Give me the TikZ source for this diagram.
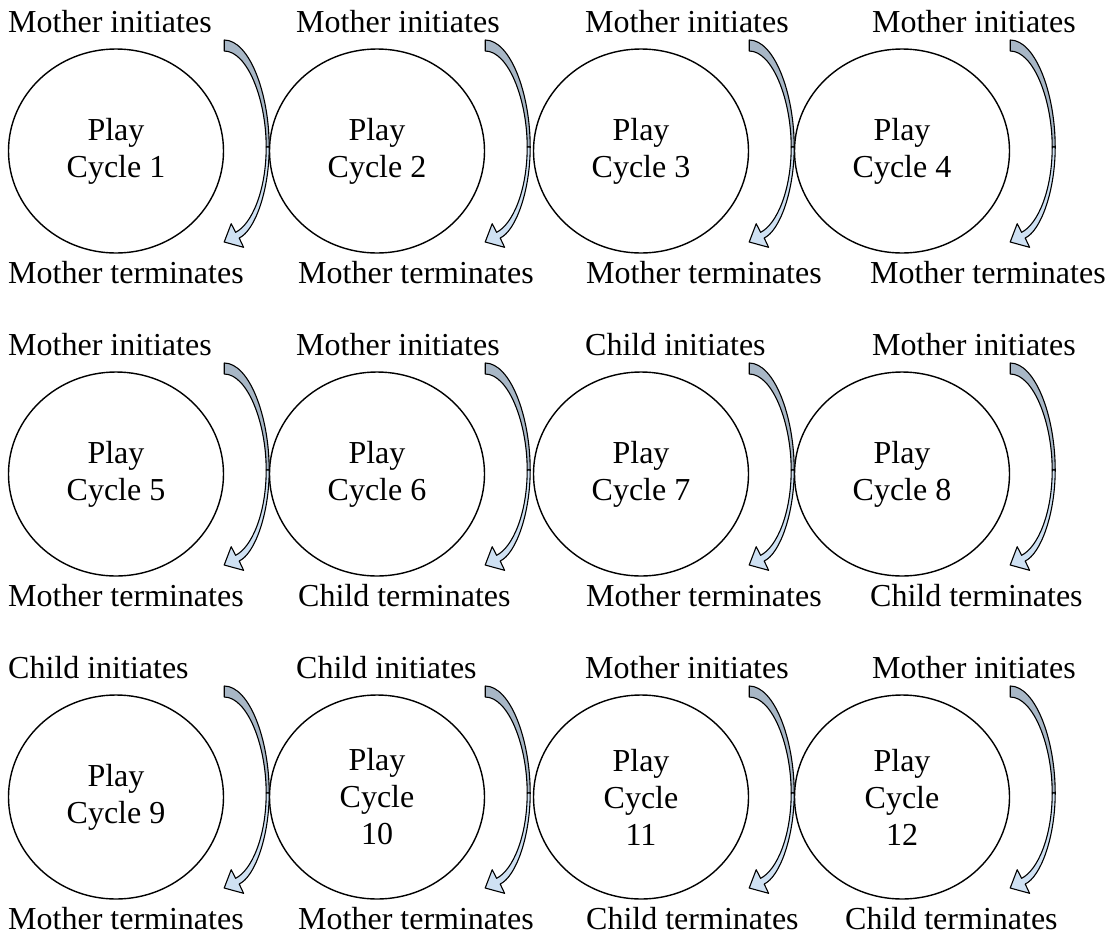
\documentclass[tikz,border=0pt]{standalone}
\usepackage{fontspec}
\setmainfont{Liberation Serif}
\usetikzlibrary{shapes.geometric}
\definecolor{arrowdark}{RGB}{168,183,198}
\definecolor{arrowlight}{RGB}{207,225,243}

\begin{document}
\begin{tikzpicture}[x=1pt,y=1pt,cyc/.style={draw, ellipse, line width=1.4pt, minimum width=215pt, minimum height=204pt, inner sep=0pt, align=center, font=\fontsize{32}{37}\selectfont},lbl/.style={anchor=west, inner sep=0pt, font=\fontsize{32}{37}\selectfont},turn/.pic={
\filldraw[fill=arrowdark, line width=1.1pt, line join=round] (0,111) .. controls (25,111) and (45,58) .. (45,4) -- (42,4) .. controls (42,52) and (23,100) .. (0,100) -- cycle;
\filldraw[fill=arrowlight, line width=1.1pt, line join=round] (45,4) .. controls (45,-40) and (30.6,-79.7) .. (15,-87) -- (19.4,-96.3) -- (0,-91) -- (7,-72.7) -- (11.4,-81.3) .. controls (27.4,-73.3) and (42,-40) .. (42,4) -- cycle;}]
\useasboundingbox (0,0) rectangle (1113,-935);
\foreach \n/\x/\y/\t in {1/116/-151/{Play\\Cycle 1},2/377/-151/{Play\\Cycle 2},3/641/-151/{Play\\Cycle 3},4/902/-151/{Play\\Cycle 4},5/116/-474/{Play\\Cycle 5},6/377/-474/{Play\\Cycle 6},7/641/-474/{Play\\Cycle 7},8/902/-474/{Play\\Cycle 8},9/116/-797/{Play\\Cycle 9},10/377/-797/{Play\\Cycle\\10},11/641/-797/{Play\\Cycle\\11},12/902/-797/{Play\\Cycle\\12}}
  \node[cyc] (c\n) at (\x,\y) {\t};
\foreach \n in {1,...,12}
  \pic at (c\n.east) {turn};
\foreach \n/\x/\y/\t in {1/8/-22/Mother initiates,2/296/-22/Mother initiates,3/585/-22/Mother initiates,4/872/-22/Mother initiates,5/8/-345/Mother initiates,6/296/-345/Mother initiates,7/585/-345/Child initiates,8/872/-345/Mother initiates,9/8/-668/Child initiates,10/296/-668/Child initiates,11/585/-668/Mother initiates,12/872/-668/Mother initiates}
  \node[lbl] (init\n) at (\x,\y) {\t};
\foreach \n/\x/\y/\t in {1/8/-273/Mother terminates,2/298/-273/Mother terminates,3/586/-273/Mother terminates,4/870/-273/Mother terminates,5/8/-596/Mother terminates,6/298/-596/Child terminates,7/586/-596/Mother terminates,8/870/-596/Child terminates,9/8/-919/Mother terminates,10/298/-919/Mother terminates,11/586/-919/Child terminates,12/845/-919/Child terminates}
  \node[lbl] (term\n) at (\x,\y) {\t};
\end{tikzpicture}
\end{document}
